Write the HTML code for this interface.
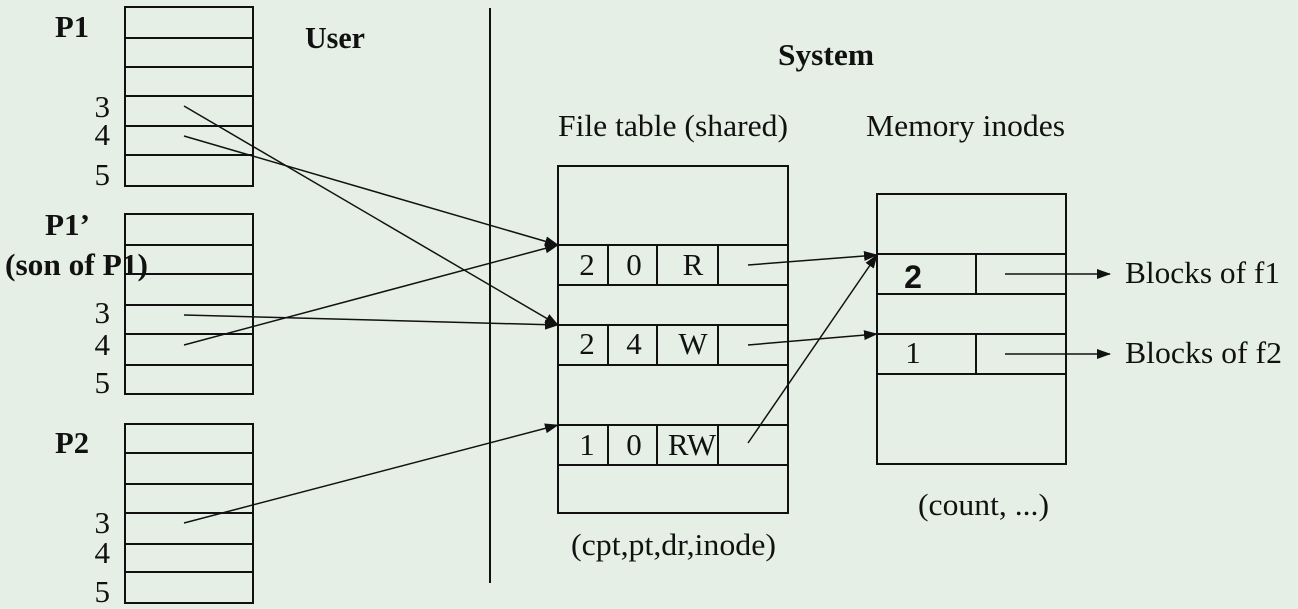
<!DOCTYPE html>
<html><head><style>
html,body{margin:0;padding:0;background:#e6efe6;}
svg{display:block}
text{font-family:"Liberation Serif",serif;font-size:31px;fill:#111}
.b{font-weight:bold}
</style></head><body>
<svg width="1298" height="609" viewBox="0 0 1298 609" xmlns="http://www.w3.org/2000/svg">
<defs><marker id="a" markerWidth="14" markerHeight="10" refX="13" refY="5" orient="auto" markerUnits="userSpaceOnUse"><path d="M0,0 L14,5 L0,10 Z" fill="#111"/></marker></defs>
<g stroke="#111" stroke-width="2" fill="none">
<rect x="125" y="7" width="128" height="179"/>
<path d="M125 38H253M125 67H253M125 96H253M125 126H253M125 155H253"/>
<rect x="125" y="214" width="128" height="180"/>
<path d="M125 245H253M125 274H253M125 305H253M125 334H253M125 365H253"/>
<rect x="125" y="424" width="128" height="179"/>
<path d="M125 453H253M125 484H253M125 513H253M125 544H253M125 572H253"/>
<line x1="490" y1="8" x2="490" y2="583"/>
<rect x="558" y="166" width="230" height="347"/>
<path d="M558 245H788M558 285H788M558 325H788M558 365H788M558 425H788M558 465H788"/>
<path d="M608 245V285M657 245V285M718 245V285M608 325V365M657 325V365M718 325V365M608 425V465M657 425V465M718 425V465"/>
<rect x="877" y="194" width="189" height="270"/>
<path d="M877 254H1066M877 294H1066M877 334H1066M877 374H1066M976 254V294M976 334V374"/>
</g>
<g stroke="#111" stroke-width="1.5" fill="none" marker-end="url(#a)">
<line x1="184" y1="106" x2="558" y2="325"/>
<line x1="184" y1="136" x2="558" y2="245"/>
<line x1="184" y1="315" x2="558" y2="325"/>
<line x1="184" y1="345" x2="558" y2="245"/>
<line x1="184" y1="523" x2="558" y2="425"/>
<line x1="748" y1="265" x2="877" y2="255"/>
<line x1="748" y1="345" x2="877" y2="334"/>
<line x1="748" y1="443" x2="877" y2="255"/>
<line x1="1005" y1="274" x2="1110" y2="274"/>
<line x1="1005" y1="354" x2="1110" y2="354"/>
</g>
<g lengthAdjust="spacingAndGlyphs">
<text x="55" y="37" class="b" textLength="34" lengthAdjust="spacingAndGlyphs">P1</text>
<text x="305" y="48" class="b" textLength="60" lengthAdjust="spacingAndGlyphs">User</text>
<text x="45" y="235" class="b" textLength="45" lengthAdjust="spacingAndGlyphs">P1’</text>
<text x="5" y="275" class="b" textLength="143" lengthAdjust="spacingAndGlyphs">(son of P1)</text>
<text x="55" y="453" class="b" textLength="34" lengthAdjust="spacingAndGlyphs">P2</text>
<text x="778" y="65" class="b" textLength="96" lengthAdjust="spacingAndGlyphs">System</text>
<text x="558" y="136" textLength="230" lengthAdjust="spacingAndGlyphs">File table (shared)</text>
<text x="866" y="136" textLength="199" lengthAdjust="spacingAndGlyphs">Memory inodes</text>
<text x="918" y="515" textLength="131" lengthAdjust="spacingAndGlyphs">(count, ...)</text>
<text x="571" y="555" textLength="205" lengthAdjust="spacingAndGlyphs">(cpt,pt,dr,inode)</text>
<text x="1125" y="283" textLength="155" lengthAdjust="spacingAndGlyphs">Blocks of f1</text>
<text x="1125" y="363" textLength="157" lengthAdjust="spacingAndGlyphs">Blocks of f2</text>
</g>
<g text-anchor="end"><text x="110" y="117">3</text><text x="110" y="145">4</text><text x="110" y="185">5</text>
<text x="110" y="323">3</text><text x="110" y="355">4</text><text x="110" y="393">5</text>
<text x="110" y="533">3</text><text x="110" y="563">4</text><text x="110" y="602">5</text></g>
<g text-anchor="middle">
<text x="587" y="275">2</text><text x="634" y="275">0</text><text x="693" y="275">R</text>
<text x="587" y="354">2</text><text x="634" y="354">4</text><text x="693" y="354">W</text>
<text x="587" y="455">1</text><text x="634" y="455">0</text><text x="692" y="455">RW</text>
<text x="913" y="288" style="font-family:'Liberation Sans',sans-serif;font-weight:bold;font-size:32px">2</text>
<text x="913" y="363">1</text>
</g>
</svg>
</body></html>
